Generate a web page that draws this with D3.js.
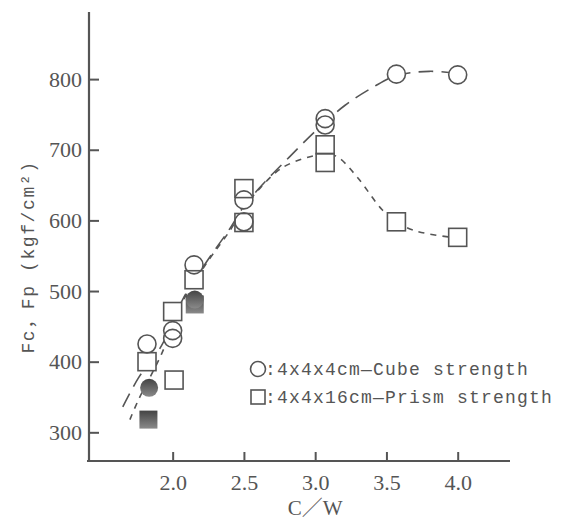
<!DOCTYPE html>
<html><head><meta charset="utf-8">
<script src="https://cdn.jsdelivr.net/npm/d3@7"></script>
<style>
html,body{margin:0;padding:0;background:#fff;}
svg{display:block;}
</style>
</head><body>
<svg id="chart" width="566" height="520"></svg>
<script>
// ---- data ----
const xTicks = [2.0, 2.5, 3.0, 3.5, 4.0];
const yTicks = [300, 400, 500, 600, 700, 800];
const cubeOpen = [[1.82,425],[2.0,444],[2.0,433],[2.15,537],[2.5,629],[2.5,598],[3.07,744],[3.07,735],[3.57,807],[4.0,806]];
const prismOpen = [[1.82,400],[2.0,471],[2.01,374],[2.15,516],[2.5,645],[2.5,597],[3.07,707],[3.07,682],[3.57,598],[4.0,576]];
const cubeFilled = [[1.835,363],[2.155,488]];
const prismFilled = [[1.83,318],[2.155,481]];
const cubeCurve = [[1.65,336],[1.76,377],[1.92,422],[2.07,488],[2.25,545],[2.4,588],[2.5,620],[2.65,655],[2.82,690],[3.01,728],[3.21,763],[3.41,789],[3.57,805],[3.8,811],[4.0,808]];
const prismCurve = [[1.7,318],[1.76,346],[1.92,410],[2.07,485],[2.25,543],[2.4,585],[2.5,618],[2.61,645],[2.73,669],[2.82,680],[3.0,692],[3.1,694],[3.17,688],[3.3,660],[3.47,615],[3.57,598],[3.69,586],[3.92,577],[4.0,576]];
const legendLabels = [":4x4x4cm—Cube strength", ":4x4x16cm—Prism strength"];
const xLabel = "C／W";
const yLabel = "Fc，Fp (kgf/cm²)";

// ---- drawing ----
const ink = "#555";
const svg = d3.select("#chart");
const x = d3.scaleLinear().domain([1.413, 4.367]).range([89, 510]);
const y = d3.scaleLinear().domain([259.4, 895]).range([461, 12]);

const defs = svg.append("defs");
const grad = defs.append("linearGradient").attr("id","gfill").attr("x1",0).attr("y1",0).attr("x2",0).attr("y2",1);
grad.append("stop").attr("offset","0%").attr("stop-color","#444");
grad.append("stop").attr("offset","100%").attr("stop-color","#8a8a8a");

// axes
const yAxis = d3.axisLeft(y).tickValues(yTicks).tickSize(-10).tickPadding(7).tickFormat(d3.format("d"));
const gy = svg.append("g").attr("transform","translate(89,0)").call(yAxis);
const xAxis = d3.axisBottom(x).tickValues(xTicks).tickSize(-9).tickPadding(13).tickFormat(d3.format(".1f"));
const gx = svg.append("g").attr("transform","translate(0,461)").call(xAxis);
[gx, gy].forEach(g => {
  g.select(".domain").remove();
  g.selectAll(".tick line").attr("stroke", ink).attr("stroke-width", 2);
  g.selectAll(".tick text").attr("fill", ink).attr("font-family","'Liberation Serif', serif").attr("font-size", 22);
});
svg.append("line").attr("x1",89).attr("x2",89).attr("y1",y(895)).attr("y2",462).attr("stroke",ink).attr("stroke-width",2.2);
svg.append("line").attr("x1",87).attr("x2",510).attr("y1",461).attr("y2",461).attr("stroke",ink).attr("stroke-width",2.2);

// axis titles
svg.append("text").attr("x", x(3.0)).attr("y", 515).attr("text-anchor","middle")
  .attr("font-family","'Liberation Serif', 'Noto Sans CJK JP', serif").attr("font-size",21).attr("fill",ink).text(xLabel);
svg.append("text").attr("transform","translate(34,257) rotate(-90)").attr("text-anchor","middle")
  .attr("font-family","'Liberation Mono', 'Noto Sans CJK JP', monospace").attr("font-size",18).attr("letter-spacing",1.6)
  .attr("fill",ink).text(yLabel);

// curves
const line = d3.line().x(d => x(d[0])).y(d => y(d[1])).curve(d3.curveCatmullRom.alpha(0.5));
svg.append("path").datum(cubeCurve).attr("d", line).attr("fill","none").attr("stroke",ink)
  .attr("stroke-width",1.6).attr("stroke-dasharray","15,8");
svg.append("path").datum(prismCurve).attr("d", line).attr("fill","none").attr("stroke",ink)
  .attr("stroke-width",1.6).attr("stroke-dasharray","6,6");

// marker backgrounds (hide curves inside markers)
const R = 9, S = 18;
const bg = svg.append("g");
bg.selectAll("circle.bg").data(cubeOpen).join("circle").attr("cx", d=>x(d[0])).attr("cy", d=>y(d[1])).attr("r",R).attr("fill","#fff");
bg.selectAll("rect.bg").data(prismOpen).join("rect").attr("x", d=>x(d[0])-S/2).attr("y", d=>y(d[1])-S/2).attr("width",S).attr("height",S).attr("fill","#fff");

// filled markers
svg.append("g").selectAll("rect").data(prismFilled).join("rect")
  .attr("x", d=>x(d[0])-S/2).attr("y", d=>y(d[1])-S/2).attr("width",S).attr("height",S).attr("fill","url(#gfill)");
svg.append("g").selectAll("circle").data(cubeFilled).join("circle")
  .attr("cx", d=>x(d[0])).attr("cy", d=>y(d[1])).attr("r",R).attr("fill","url(#gfill)");

// open markers outlines
svg.append("g").selectAll("rect").data(prismOpen).join("rect")
  .attr("x", d=>x(d[0])-S/2).attr("y", d=>y(d[1])-S/2).attr("width",S).attr("height",S)
  .attr("fill","none").attr("stroke",ink).attr("stroke-width",1.6);
svg.append("g").selectAll("circle").data(cubeOpen).join("circle")
  .attr("cx", d=>x(d[0])).attr("cy", d=>y(d[1])).attr("r",R)
  .attr("fill","none").attr("stroke",ink).attr("stroke-width",1.6);

// legend
const lg = svg.append("g");
lg.append("circle").attr("cx",258).attr("cy",369).attr("r",7.5).attr("fill","none").attr("stroke",ink).attr("stroke-width",1.6);
lg.append("rect").attr("x",251).attr("y",390).attr("width",14).attr("height",14).attr("fill","none").attr("stroke",ink).attr("stroke-width",1.6);
lg.selectAll("text").data(legendLabels).join("text")
  .attr("x",265).attr("y",(d,i)=>375+i*28)
  .attr("font-family","'Liberation Mono', monospace").attr("font-size",18).attr("letter-spacing",1.2)
  .attr("fill",ink).text(d=>d);
</script>
</body></html>
